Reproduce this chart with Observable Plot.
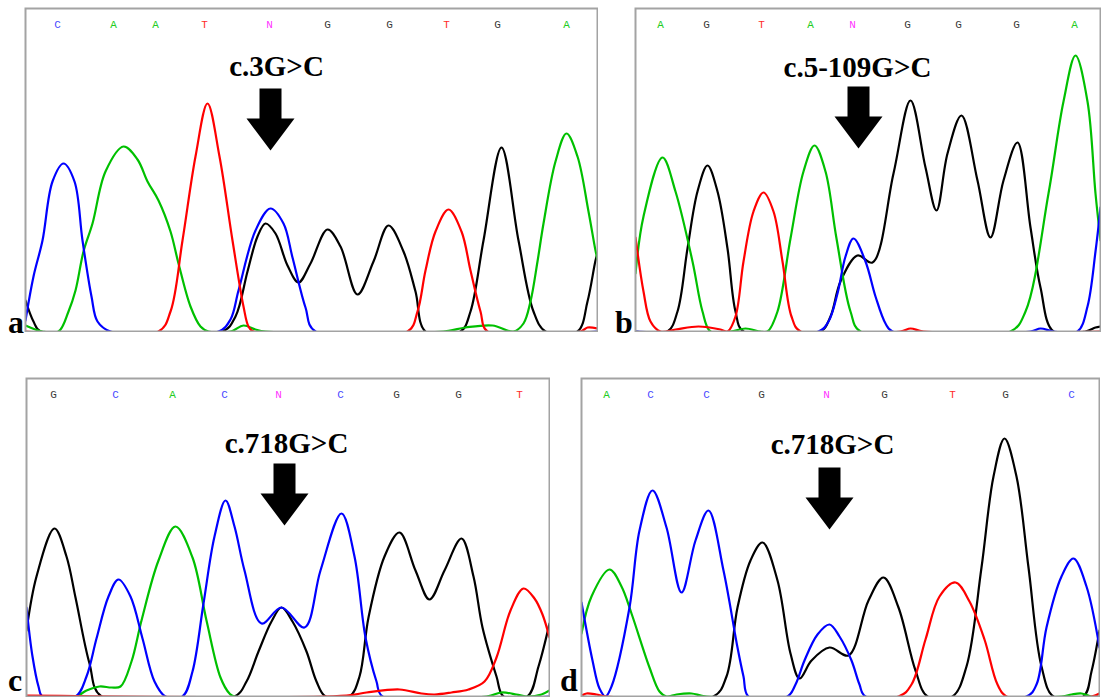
<!DOCTYPE html>
<html>
<head>
<meta charset="utf-8">
<script src="https://cdn.jsdelivr.net/npm/d3@7"></script>
<script src="https://cdn.jsdelivr.net/npm/@observablehq/plot@0.6"></script>
<style>
  body { margin: 0; background: #fff; }
  #wrap { position: relative; width: 1102px; height: 700px; background: #fff; overflow: hidden; }
  .panel { position: absolute; }
  .lab { position: absolute; font-family: "Liberation Serif", "Times New Roman", serif; font-weight: bold; font-size: 32px; line-height: 1; color: #000; }
</style>
</head>
<body>
<div id="wrap"></div>
<script>
// ---------- DATA (scan position, signal) ----------
// Panel a : c.3G>C
const aA = [[0,6],[17,0],[33,0],[43,20],[50,41],[58,80],[67,108],[80,160],[98,185],[112,172],[122,150],[133,131],[145,100],[153,68],[165,25],[175,5],[183,0],[205,0],[218,6],[230,2],[240,0],[418,0],[440,4],[467,6],[488,0],[498,8],[505,30],[512,70],[518,108],[530,170],[541,198],[552,175],[563,120],[570,81],[572,72]];
const aC = [[0,11],[8,55],[17,91],[27,150],[38,168],[49,150],[57,91],[66,35],[72,10],[85,0],[193,0],[205,12],[213,41],[230,101],[245,123],[258,108],[267,74],[280,24],[290,0],[572,0]];
const aG = [[0,31],[8,10],[15,0],[197,0],[210,15],[222,60],[232,95],[240,108],[250,98],[262,66],[273,49],[285,68],[302,102],[315,85],[332,37],[348,70],[363,106],[378,80],[390,40],[400,0],[435,0],[445,20],[458,91],[476,184],[493,91],[508,20],[520,0],[552,0],[562,30],[570,71],[572,78]];
const aT = [[0,0],[133,0],[145,20],[157,91],[170,175],[182,228],[194,175],[207,91],[218,25],[223,5],[228,0],[382,0],[392,20],[400,61],[410,100],[423,122],[436,100],[445,61],[455,20],[462,0],[555,0],[562,4],[572,3]];
const aBases = ["C","A","A","T","N","G","G","T","G","A"];
const aBasePos = [32,88,130,179,244,302,364,421,472,541];

// Panel b : c.5-109G>C
const bA = [[0,58],[8,115],[27,174],[40,140],[57,70],[67,20],[75,0],[95,0],[110,3],[125,0],[132,0],[142,20],[155,93],[168,160],[179,186],[190,160],[201,93],[215,20],[225,0],[375,0],[390,20],[413,138],[428,230],[440,276],[452,230],[460,138],[465,91]];
const bC = [[0,0],[183,0],[193,10],[202,38],[210,75],[218,93],[230,70],[240,35],[250,8],[257,0],[395,0],[405,3],[418,0],[442,0],[452,25],[460,80],[465,124]];
const bG = [[0,0],[32,0],[42,20],[52,83],[62,140],[72,166],[82,140],[92,83],[100,20],[108,0],[185,0],[195,15],[205,50],[222,76],[237,69],[258,158],[275,231],[290,164],[301,121],[312,178],[326,216],[342,151],[355,94],[368,151],[382,189],[395,104],[405,44],[418,0],[450,0],[460,4],[465,5]];
const bT = [[0,94],[8,40],[15,10],[25,0],[40,2],[63,5],[85,2],[92,0],[100,15],[108,70],[118,120],[128,139],[138,120],[147,70],[156,15],[165,0],[265,0],[275,3],[288,0],[465,0]];
const bBases = ["A","G","T","A","N","G","G","G","A"];
const bBasePos = [25,71,126,175,217,272,323,381,439];

// Panel c : c.718G>C
const cA = [[0,0],[49,0],[60,6],[73,10],[85,9],[94,10],[105,35],[115,76],[132,136],[149,170],[166,139],[180,76],[194,19],[203,3],[208,0],[460,0],[475,4],[490,2],[500,0],[515,2],[523,6]];
const cC = [[0,89],[6,40],[12,10],[16,0],[49,0],[60,20],[70,58],[82,100],[92,117],[104,100],[116,58],[128,15],[139,0],[156,0],[166,25],[177,93],[188,160],[199,196],[208,170],[218,126],[235,73],[255,89],[278,69],[294,126],[315,183],[328,140],[339,59],[350,15],[356,0],[523,0]];
const cG = [[0,66],[10,120],[28,168],[40,140],[49,99],[63,33],[75,0],[208,0],[220,15],[232,45],[245,75],[255,89],[266,75],[280,45],[290,15],[299,0],[323,0],[333,20],[342,79],[358,140],[373,164],[389,126],[403,97],[418,126],[435,158],[447,120],[456,69],[470,20],[477,0],[501,0],[512,30],[523,73]];
const cT = [[0,1],[320,1],[340,4],[373,7],[395,3],[408,2],[425,4],[442,7],[458,15],[470,39],[484,86],[497,108],[508,98],[516,82],[523,59]];
const cBases = ["G","C","A","C","N","C","G","G","T"];
const cBasePos = [27,89,146,198,252,314,370,432,493];

// Panel d : c.718G>C
const dA = [[0,63],[10,100],[28,127],[40,110],[50,83],[68,29],[78,5],[85,0],[95,2],[110,3],[125,0],[480,0],[490,2],[500,3],[510,0],[518,0]];
const dC = [[0,94],[11,36],[18,8],[24,0],[30,10],[48,89],[58,166],[71,206],[85,169],[100,104],[114,156],[127,186],[142,126],[156,49],[162,20],[167,0],[206,0],[214,12],[223,36],[236,62],[248,72],[258,60],[270,36],[278,12],[284,0],[445,0],[455,12],[465,69],[480,120],[492,138],[505,110],[518,49]];
const dG = [[0,0],[132,0],[145,20],[156,89],[169,136],[181,154],[196,116],[209,43],[218,18],[230,36],[248,49],[267,41],[287,96],[302,119],[317,89],[334,26],[346,0],[371,0],[385,30],[400,129],[412,220],[423,258],[435,220],[447,129],[460,30],[472,0],[502,0],[510,25],[518,66]];
const dT = [[0,1],[5,3],[15,2],[25,0],[317,0],[330,12],[344,57],[358,100],[374,114],[388,95],[403,57],[416,12],[425,0],[510,0],[518,3]];
const dBases = ["A","C","C","G","N","G","T","G","C"];
const dBasePos = [25,69,125,180,245,303,371,424,490];

// Mutation labels and arrow positions (scan, signal)
const mutLabels = ["c.3G>C","c.5-109G>C","c.718G>C","c.718G>C"];
const mutLabelPos = [[251,256],[222,255],[260,244],[251,243]];
const arrowPos = [[245,212],[223,214],[258,202],[248,198]];
const panelLetters = ["a","b","c","d"];

// ---------- STYLE / LAYOUT ----------
const traceColor = {A:"#00c000", C:"#0000ff", G:"#000000", T:"#ff0000"};
const letterColor = {A:"#22cc22", C:"#4a4aff", G:"#3a3a3a", T:"#ff2a2a", N:"#ff33ff"};
const panels = [
  {A:aA,C:aC,G:aG,T:aT, bases:aBases, pos:aBasePos, left:25,  top:8,   w:572, h:323, lx:8,   ly:306},
  {A:bA,C:bC,G:bG,T:bT, bases:bBases, pos:bBasePos, left:635, top:8,   w:465, h:323, lx:615, ly:306},
  {A:cA,C:cC,G:cG,T:cT, bases:cBases, pos:cBasePos, left:26,  top:378, w:523, h:318, lx:8,   ly:664},
  {A:dA,C:dC,G:dG,T:dT, bases:dBases, pos:dBasePos, left:581, top:378, w:518, h:318, lx:560, ly:664}
];

const arrowSymbol = {
  draw(ctx) {
    const sw = 11, hw = 24, top = -31, neck = -1, tip = 31;
    ctx.moveTo(-sw, top); ctx.lineTo(sw, top); ctx.lineTo(sw, neck);
    ctx.lineTo(hw, neck); ctx.lineTo(0, tip); ctx.lineTo(-hw, neck);
    ctx.lineTo(-sw, neck); ctx.closePath();
  }
};

const wrap = document.getElementById("wrap");
panels.forEach((p, i) => {
  const order = ["G","A","C","T"];
  const lines = order.map(k => Plot.line(p[k], {
    x: d => d[0], y: d => d[1], stroke: traceColor[k], strokeWidth: 2.2,
    curve: "catmull-rom", clip: "frame"
  }));
  const baseData = p.bases.map((b, j) => ({b, x: p.pos[j]}));
  const chart = Plot.plot({
    width: p.w + 2, height: p.h + 2,
    marginTop: 1, marginBottom: 1, marginLeft: 1, marginRight: 1,
    x: {domain: [0, p.w], axis: null},
    y: {domain: [0, p.h], axis: null},
    style: {background: "transparent"},
    marks: [
      ...lines,
      Plot.frame({stroke: "#a3a3a3", strokeWidth: 2}),
      Plot.text(baseData, {x: "x", text: "b", fill: d => letterColor[d.b], frameAnchor: "top", dy: 12,
        fontFamily: "'Liberation Mono', 'DejaVu Sans Mono', monospace", fontSize: 11, textAnchor: "middle"}),
      Plot.text([mutLabels[i]], {x: () => mutLabelPos[i][0], y: () => mutLabelPos[i][1], text: d => d,
        fontFamily: "'Liberation Serif', 'Times New Roman', serif", fontWeight: "bold", fontSize: 29,
        fill: "black", textAnchor: "middle", lineAnchor: "bottom"}),
      Plot.dot([arrowPos[i]], {x: d => d[0], y: d => d[1], symbol: arrowSymbol, r: 5, fill: "black", stroke: "none"})
    ]
  });
  const holder = document.createElement("div");
  holder.className = "panel";
  holder.style.left = (p.left - 1) + "px";
  holder.style.top = (p.top - 1) + "px";
  holder.appendChild(chart);
  wrap.appendChild(holder);
  const lab = document.createElement("div");
  lab.className = "lab";
  lab.style.left = p.lx + "px";
  lab.style.top = p.ly + "px";
  lab.textContent = panelLetters[i];
  wrap.appendChild(lab);
});
</script>
</body>
</html>
